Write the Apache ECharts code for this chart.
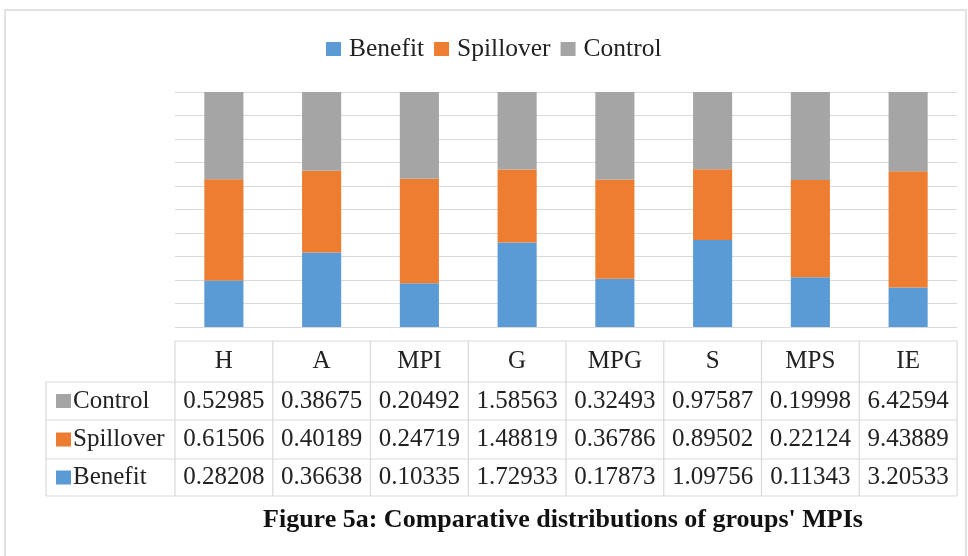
<!DOCTYPE html>
<html>
<head>
<meta charset="utf-8">
<script src="https://cdn.jsdelivr.net/npm/echarts@6/dist/echarts.min.js"></script>
<style>
html,body{margin:0;padding:0;background:#fff;}
#chart{width:968px;height:556px;}
</style>
</head>
<body>
<div id="chart"></div>
<script>
const categories = ['H', 'A', 'MPI', 'G', 'MPG', 'S', 'MPS', 'IE'];
const benefit = [0.28208, 0.36638, 0.10335, 1.72933, 0.17873, 1.09756, 0.11343, 3.20533];
const spillover = [0.61506, 0.40189, 0.24719, 1.48819, 0.36786, 0.89502, 0.22124, 9.43889];
const control = [0.52985, 0.38675, 0.20492, 1.58563, 0.32493, 0.97587, 0.19998, 6.42594];
const seriesNames = ['Benefit', 'Spillover', 'Control'];
const colors = { Benefit: '#5B9BD5', Spillover: '#ED7D31', Control: '#A5A5A5' };
const titleText = "Figure 5a: Comparative distributions of groups' MPIs";

const totals = categories.map((c, i) => benefit[i] + spillover[i] + control[i]);
const pct = arr => arr.map((v, i) => v / totals[i] * 100);
const seriesValues = { Benefit: benefit, Spillover: spillover, Control: control };

const SERIF = '"Liberation Serif", "Times New Roman", serif';
const GRID = { left: 175, right: 11, top: 92, bottom: 229 };
const LINE = '#D9D9D9';
const TXT = '#222';

const chart = echarts.init(document.getElementById('chart'), null, { renderer: 'canvas' });

const option = {
  animation: false,
  backgroundColor: '#fff',
  legend: {
    data: seriesNames,
    left: 321, top: 31,
    icon: 'rect', itemWidth: 15, itemHeight: 14, itemGap: 10,
    textStyle: { fontFamily: SERIF, fontSize: 25.5, color: TXT, padding: [0, 0, 0, 3] }
  },
  grid: GRID,
  xAxis: {
    type: 'category', data: categories,
    axisLine: { show: false }, axisTick: { show: false }, axisLabel: { show: false }
  },
  yAxis: {
    type: 'value', min: 0, max: 100, interval: 10,
    axisLabel: { show: false }, axisLine: { show: false }, axisTick: { show: false },
    splitLine: { lineStyle: { color: LINE, width: 1.2 } }
  },
  series: seriesNames.map(n => ({
    name: n, type: 'bar', stack: 'total', barWidth: '40%',
    itemStyle: { color: colors[n] },
    data: pct(seriesValues[n])
  }))
};
chart.setOption(option);

// Build data table under the plot
const plotLeft = GRID.left, plotRight = 968 - GRID.right;
const colW = (plotRight - plotLeft) / categories.length;
const tableLeft = 46;
const rowY = [341, 382, 420, 459, 496];
const g = [];
g.push({ type: 'rect', shape: { x: 5, y: 10, width: 961, height: 560 }, style: { fill: null, stroke: LINE, lineWidth: 1.5 }, silent: true });
g.push({ type: 'line', shape: { x1: plotLeft, y1: rowY[0], x2: plotRight, y2: rowY[0] }, style: { stroke: LINE, lineWidth: 1.2 } });
for (let r = 1; r < rowY.length; r++) {
  g.push({ type: 'line', shape: { x1: tableLeft, y1: rowY[r], x2: plotRight, y2: rowY[r] }, style: { stroke: LINE, lineWidth: 1.2 } });
}
g.push({ type: 'line', shape: { x1: tableLeft, y1: rowY[1], x2: tableLeft, y2: rowY[4] }, style: { stroke: LINE, lineWidth: 1.2 } });
for (let c = 0; c <= categories.length; c++) {
  const x = plotLeft + c * colW;
  g.push({ type: 'line', shape: { x1: x, y1: rowY[0], x2: x, y2: rowY[4] }, style: { stroke: LINE, lineWidth: 1.2 } });
}
categories.forEach((c, i) => {
  const cx = chart.convertToPixel({ xAxisIndex: 0 }, c);
  g.push({ type: 'text', x: cx, y: (rowY[0] + rowY[1]) / 2,
    style: { text: c, font: '25px ' + SERIF, fill: TXT, align: 'center', verticalAlign: 'middle' } });
});
const tableRows = ['Control', 'Spillover', 'Benefit'];
tableRows.forEach((n, r) => {
  const cy = (rowY[r + 1] + rowY[r + 2]) / 2;
  g.push({ type: 'rect', shape: { x: 56, y: cy - 7, width: 15, height: 14 }, style: { fill: colors[n] } });
  g.push({ type: 'text', x: 73, y: cy,
    style: { text: n, font: '25px ' + SERIF, fill: TXT, align: 'left', verticalAlign: 'middle' } });
  seriesValues[n].forEach((v, i) => {
    const cx = chart.convertToPixel({ xAxisIndex: 0 }, categories[i]);
    g.push({ type: 'text', x: cx, y: cy,
      style: { text: v.toFixed(5), font: '25px ' + SERIF, fill: TXT, align: 'center', verticalAlign: 'middle' } });
  });
});
g.push({ type: 'text', x: 563, y: 520,
  style: { text: titleText, font: 'bold 26px ' + SERIF, fill: '#111', align: 'center', verticalAlign: 'middle' } });

chart.setOption({ graphic: g });
</script>
</body>
</html>
